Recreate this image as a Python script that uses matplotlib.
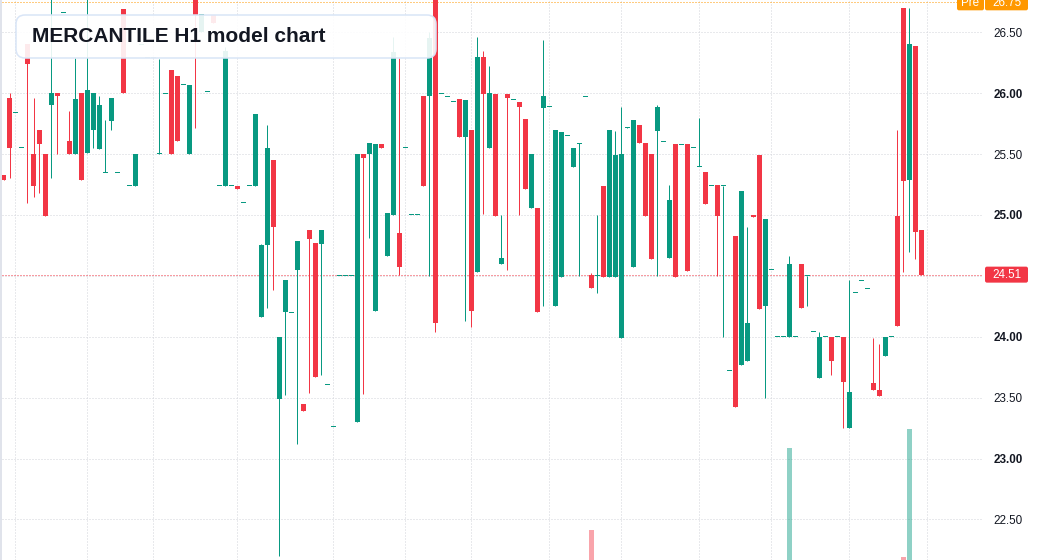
import numpy as np
import matplotlib
matplotlib.use("Agg")
import matplotlib.pyplot as plt
from matplotlib.patches import FancyBboxPatch, Rectangle
from matplotlib.lines import Line2D
from matplotlib.transforms import IdentityTransform

plt.rcParams['font.family'] = ['Liberation Sans', 'DejaVu Sans']

# hourly bars (oldest first)
opens = [25.33, 25.96, 25.84, 25.55, 26.40, 25.50, 25.70, 25.50, 25.90, 26.00,
         26.66, 25.61, 25.50, 26.00, 25.51, 25.70, 25.54, 25.35, 25.77, 25.35,
         26.69, 25.24, 25.24, 26.40, 26.29, 26.29, 25.50, 26.00, 26.19, 26.14,
         26.07, 25.50, 26.80, 26.50, 26.01, 26.64, 25.24, 25.24, 25.24, 25.24,
         25.10, 25.24, 25.24, 24.16, 24.75, 25.45, 23.49, 24.20, 24.20, 24.55,
         23.45, 24.88, 24.77, 24.76, 23.61, 23.26, 24.50, 24.50, 24.50, 23.30,
         25.50, 25.50, 24.21, 25.58, 24.66, 25.00, 24.85, 25.55, 25.00, 25.00,
         25.98, 25.98, 26.80, 26.00, 25.97, 25.93, 25.95, 25.64, 25.70, 24.53,
         26.30, 25.55, 25.99, 24.60, 25.99, 25.95, 25.93, 25.79, 25.06, 25.06,
         25.88, 25.89, 24.25, 24.49, 25.65, 25.39, 25.59, 25.97, 24.51, 24.50,
         25.24, 24.49, 24.49, 23.99, 25.72, 24.57, 25.74, 25.59, 25.50, 25.69,
         25.60, 24.65, 25.58, 25.58, 25.58, 25.55, 25.40, 25.35, 25.24, 25.25,
         25.24, 23.72, 24.83, 23.77, 23.80, 25.00, 25.49, 24.25, 24.55, 24.00,
         24.00, 24.00, 24.00, 24.60, 24.50, 24.04, 23.66, 24.00, 24.00, 24.00,
         24.00, 23.25, 24.36, 24.46, 24.40, 23.62, 23.56, 23.84, 24.00, 24.99,
         26.70, 25.29, 26.39, 24.88]
highs = [25.33, 26.00, 25.84, 25.55, 26.40, 25.96, 25.70, 25.50, 26.80, 26.00,
         26.66, 25.85, 26.29, 26.00, 26.80, 26.00, 25.98, 25.78, 25.96, 25.35,
         26.69, 25.24, 25.50, 26.40, 26.29, 26.29, 26.28, 26.00, 26.19, 26.14,
         26.07, 26.07, 26.80, 26.65, 26.01, 26.64, 25.24, 26.38, 25.24, 25.24,
         25.10, 25.24, 25.83, 24.76, 25.74, 25.45, 24.00, 24.47, 24.20, 24.79,
         23.45, 24.88, 24.77, 24.88, 23.61, 23.26, 24.50, 24.50, 24.50, 25.50,
         25.50, 25.59, 25.58, 25.58, 25.02, 26.46, 26.29, 25.55, 25.00, 25.00,
         25.98, 26.50, 26.80, 26.00, 25.97, 25.93, 25.95, 25.94, 25.70, 26.46,
         26.35, 26.22, 25.99, 25.00, 25.99, 25.95, 25.93, 25.79, 25.50, 25.06,
         26.44, 25.89, 25.70, 25.68, 25.65, 25.55, 25.59, 25.97, 24.52, 25.00,
         25.24, 25.70, 25.69, 25.89, 25.72, 25.78, 25.74, 25.59, 25.50, 25.90,
         25.60, 25.25, 25.58, 25.58, 25.58, 25.55, 25.80, 25.35, 25.24, 25.25,
         25.24, 23.72, 24.83, 25.20, 24.90, 25.00, 25.49, 24.97, 24.55, 24.00,
         24.00, 24.66, 24.00, 24.60, 24.50, 24.04, 24.04, 24.00, 24.00, 24.00,
         24.00, 24.47, 24.36, 24.46, 24.40, 23.99, 23.94, 24.00, 24.00, 25.70,
         26.70, 26.70, 26.39, 24.88]
lows = [25.29, 25.30, 25.84, 25.55, 25.10, 25.15, 25.18, 24.99, 25.30, 25.50,
        26.66, 25.50, 25.50, 25.29, 25.51, 25.55, 25.54, 25.35, 25.70, 25.35,
        26.00, 25.24, 25.24, 26.40, 26.29, 26.29, 25.50, 26.00, 25.50, 25.61,
        26.07, 25.50, 25.71, 26.50, 26.01, 26.58, 25.24, 25.24, 25.24, 25.21,
        25.10, 25.24, 25.24, 24.16, 24.24, 24.38, 22.20, 23.52, 24.20, 23.12,
        23.39, 23.54, 23.67, 23.69, 23.61, 23.26, 24.50, 24.50, 24.50, 23.30,
        23.53, 24.81, 24.21, 25.55, 24.66, 25.00, 24.51, 25.55, 25.00, 25.00,
        25.24, 24.50, 24.04, 26.00, 25.97, 25.93, 25.64, 24.13, 24.08, 24.53,
        25.01, 25.55, 24.99, 24.60, 24.55, 25.95, 25.00, 25.21, 25.06, 24.20,
        24.25, 25.89, 24.25, 24.49, 25.65, 25.39, 24.50, 25.97, 24.40, 24.36,
        24.49, 24.49, 24.49, 23.99, 25.71, 24.57, 25.59, 24.99, 24.64, 24.50,
        25.60, 24.65, 24.49, 25.58, 24.54, 25.55, 25.40, 25.09, 25.24, 24.50,
        24.00, 23.72, 23.42, 23.77, 23.80, 24.98, 24.23, 23.50, 24.55, 24.00,
        24.00, 24.00, 24.00, 24.24, 24.25, 24.04, 23.66, 24.00, 23.69, 24.00,
        23.25, 23.25, 24.36, 24.46, 24.40, 23.56, 23.51, 23.84, 24.00, 24.09,
        24.53, 24.70, 24.64, 24.51]
closes = [25.29, 25.55, 25.84, 25.55, 26.24, 25.24, 25.58, 24.99, 26.00, 25.98,
          26.66, 25.50, 25.95, 25.29, 26.03, 26.00, 25.90, 25.35, 25.96, 25.35,
          26.00, 25.24, 25.50, 26.40, 26.29, 26.29, 25.51, 26.00, 25.50, 25.61,
          26.07, 26.07, 26.64, 26.65, 26.01, 26.58, 25.24, 26.35, 25.24, 25.21,
          25.10, 25.24, 25.83, 24.75, 25.55, 24.90, 24.00, 24.47, 24.20, 24.79,
          23.39, 24.80, 23.67, 24.88, 23.61, 23.26, 24.50, 24.50, 24.50, 25.50,
          25.47, 25.59, 25.58, 25.55, 25.02, 26.34, 24.57, 25.55, 25.00, 25.00,
          25.24, 26.45, 24.11, 26.00, 25.97, 25.93, 25.64, 25.94, 24.21, 26.30,
          25.99, 26.00, 24.99, 24.65, 25.96, 25.95, 25.89, 25.21, 25.50, 24.20,
          25.98, 25.89, 25.70, 25.68, 25.65, 25.55, 25.59, 25.97, 24.40, 24.50,
          24.49, 25.70, 25.49, 25.50, 25.72, 25.78, 25.59, 24.99, 24.64, 25.89,
          25.60, 25.12, 24.49, 25.58, 24.54, 25.55, 25.40, 25.09, 25.24, 24.99,
          25.24, 23.72, 23.42, 25.20, 24.11, 24.98, 24.23, 24.97, 24.55, 24.00,
          24.00, 24.60, 24.00, 24.24, 24.50, 24.04, 24.00, 24.00, 23.80, 24.00,
          23.63, 23.55, 24.36, 24.46, 24.40, 23.56, 23.51, 24.00, 24.00, 24.09,
          25.28, 26.40, 24.86, 24.51]

# only these volume bars reach into the visible pane (thousands)
vol_idx = [98, 131, 150, 151]
vol_val = [60.0, 87.3, 51.0, 93.7]

price_ticks = [22.5, 23.0, 23.5, 24.0, 24.5, 25.0, 25.5, 26.0, 26.5]
last_price = 24.51
pre_price = 26.75
title = "MERCANTILE H1 model chart"

green = '#089981'
red = '#f23645'
orange = '#ff9800'
grid_c = '#d3d5db'
txt_c = '#131722'

W, H = 1037, 560
fig = plt.figure(figsize=(W / 100, H / 100), dpi=100)
ax = fig.add_axes([2 / W, 0, 981 / W, 1])
# volume overlay; its zero lies below the visible pane
ax2 = ax.twinx()

# candle i sits at pixel 3.5 + 6 i
def px2x(px):
    return (px - 3.5) / 6.0

ymin, ymax = 22.167, 26.765
ax.set_xlim(px2x(2), px2x(983))
ax.set_ylim(ymin, ymax)

o = np.array(opens); c = np.array(closes)
hi = np.array(highs); lo = np.array(lows)
x = np.arange(len(o))
up = c >= o
cols = np.where(up, green, red)

ax.vlines(x, lo, hi, colors=cols, linewidth=0.72, zorder=3)
diff = np.abs(c - o)
h = np.maximum(diff, 0.0085)
bottom = np.minimum(o, c) - (h - diff) / 2
ax.bar(x, h, bottom=bottom, width=5 / 6, color=cols, linewidth=0, zorder=3)

# grid
grid_px = [15.5, 87.5, 153.5, 237.5, 333.5, 405.5, 471.5, 549.5,
           621.5, 699.5, 771.5, 849.5, 927.5]
ax.set_xticks([px2x(p) for p in grid_px])
ax.set_yticks(price_ticks)
ax.grid(True, color=grid_c, linestyle=(0, (1, 2)), linewidth=0.72)
ax.tick_params(axis='x', length=0, labelbottom=False)
# the 24.50 label sits under the last-price tag, so it is left blank
ax.set_yticklabels(['' if abs(v - last_price) < 0.05 else '%.2f' % v for v in price_ticks])
ax.yaxis.tick_right()
ax.tick_params(axis='y', which='both', left=False, right=False, labelleft=False,
               labelright=True, length=0, pad=7.5, labelsize=8.4, labelcolor=txt_c)
for lab, v in zip(ax.get_yticklabels(), price_ticks):
    if v == int(v):
        lab.set_fontweight('bold')
for s in ax.spines.values():
    s.set_visible(False)

ax.axhline(pre_price, xmax=(957 - 2) / 981, color=orange,
           linestyle=(0, (1, 2)), linewidth=0.72, zorder=2)
ax.axhline(last_price, color=red, linestyle=(0, (1, 2)), linewidth=0.72, zorder=2)

ax2.set_ylim(50, 50 + H / 3.0)
ax2.set_xlim(ax.get_xlim())
vcols = [green if closes[i] >= opens[i] else red for i in vol_idx]
ax2.bar(vol_idx, vol_val, width=5 / 6, color=vcols, alpha=0.45, linewidth=0)
ax2.set_axis_off()

# price labels on the scale
def ypx(p):
    return (p - ymin) / (ymax - ymin) * H

ident = IdentityTransform()
yl = ypx(last_price)
fig.add_artist(FancyBboxPatch((985, yl - 8), 43, 16, boxstyle='round,pad=0,rounding_size=2',
                              transform=ident, fc=red, ec='none'))
fig.text(1006.5 / W, yl / H, '%.2f' % last_price, color='white', fontsize=8.4,
         ha='center', va='center')

yp = ypx(pre_price)
fig.add_artist(FancyBboxPatch((957, yp - 8.5), 27, 17, boxstyle='round,pad=0,rounding_size=2',
                              transform=ident, fc=orange, ec='none'))
fig.add_artist(FancyBboxPatch((985, yp - 8.5), 43, 17, boxstyle='round,pad=0,rounding_size=2',
                              transform=ident, fc=orange, ec='none'))
fig.text(970.5 / W, (yp - 1) / H, 'Pre', color='white', fontsize=8.4, ha='center', va='center')
fig.text(1006.5 / W, (yp - 1) / H, '%.2f' % pre_price, color='white', fontsize=8.4,
         ha='center', va='center')

# borders
fig.add_artist(Rectangle((0, 0), 2, H, transform=ident, fc='#e0e3eb', ec='none'))
fig.add_artist(Line2D([1036.5, 1036.5], [0, H], transform=ident, color='#e0e3eb', lw=0.72))

# title box
fig.add_artist(FancyBboxPatch((16, H - 58), 420, 43, boxstyle='round,pad=0,rounding_size=9',
                              transform=ident, fc=(1, 1, 1, 0.9), ec='#d9e5f7', lw=1.1))
fig.text(32 / W, 1 - 37 / H, title, fontsize=15, fontweight='bold', color=txt_c,
         ha='left', va='center')

fig.savefig('out.png', dpi=100)
